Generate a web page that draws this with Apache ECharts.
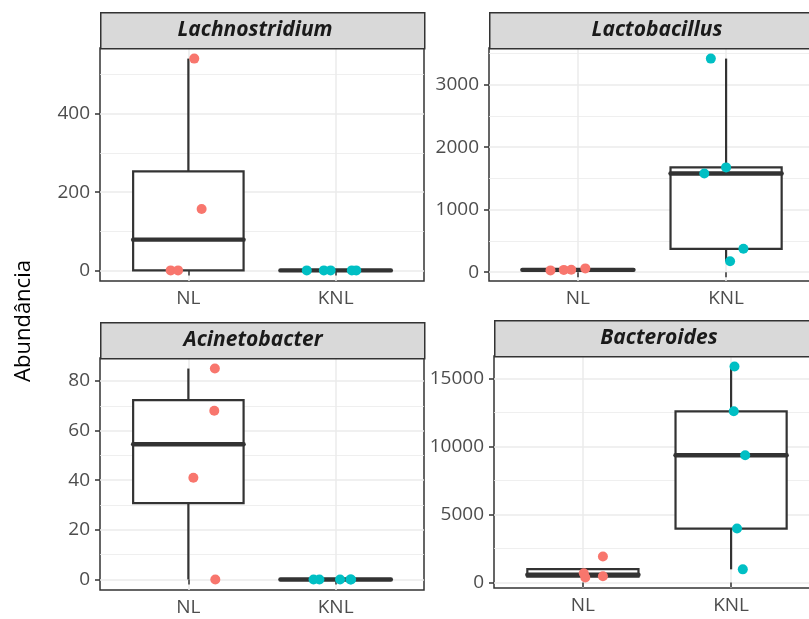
<!DOCTYPE html>
<html>
<head>
<meta charset="utf-8">
<script src="https://cdn.jsdelivr.net/npm/echarts@6/dist/echarts.min.js"></script>
<style>
  html, body { margin: 0; padding: 0; background: #ffffff; }
  #chart { width: 809px; height: 619px; }
</style>
</head>
<body>
<div id="chart"></div>
<script>
// Groups on the x axis and the genera shown in each facet
const groups = ['NL', 'KNL'];
const genera = ['Lachnostridium', 'Lactobacillus', 'Acinetobacter', 'Bacteroides'];

// Abundance per sample
const lachnoNL = [0, 0, 157, 541];
const lachnoKNL = [0, 0, 0, 0, 0];
const lactoNL = [28, 36, 38, 60];
const lactoKNL = [3419, 1677, 1580, 374, 176];
const acinetoNL = [85, 68, 41, 0];
const acinetoKNL = [0, 0, 0, 0, 0];
const bactNL = [684, 376, 460, 1920];
const bactKNL = [15884, 12595, 9357, 3970, 972];

// Horizontal jitter of each sample (in category units)
const lachnoNLJit = [-0.12, -0.07, 0.09, 0.04];
const lachnoKNLJit = [-0.196, -0.08, -0.034, 0.11, 0.14];
const lactoNLJit = [-0.185, -0.095, -0.045, 0.05];
const lactoKNLJit = [-0.103, 0.0, -0.147, 0.117, 0.027];
const acinetoNLJit = [0.18, 0.176, 0.034, 0.183];
const acinetoKNLJit = [-0.15, -0.11, 0.03, 0.10, 0.105];
const bactNLJit = [0.006, 0.016, 0.135, 0.135];
const bactKNLJit = [0.023, 0.018, 0.095, 0.04, 0.079];

// Tick labels (major) and minor grid values for each facet
const lachnoTicks = [0, 200, 400];
const lachnoMinor = [100, 300, 500];
const lactoTicks = [0, 1000, 2000, 3000];
const lactoMinor = [500, 1500, 2500, 3500];
const acinetoTicks = [0, 20, 40, 60, 80];
const acinetoMinor = [10, 30, 50, 70];
const bactTicks = [0, 5000, 10000, 15000];
const bactMinor = [2500, 7500, 12500];

const panels = [
  { name: genera[0], nl: lachnoNL, knl: lachnoKNL, nlJit: lachnoNLJit, knlJit: lachnoKNLJit, ticks: lachnoTicks, minor: lachnoMinor },
  { name: genera[1], nl: lactoNL, knl: lactoKNL, nlJit: lactoNLJit, knlJit: lactoKNLJit, ticks: lactoTicks, minor: lactoMinor },
  { name: genera[2], nl: acinetoNL, knl: acinetoKNL, nlJit: acinetoNLJit, knlJit: acinetoKNLJit, ticks: acinetoTicks, minor: acinetoMinor },
  { name: genera[3], nl: bactNL, knl: bactKNL, nlJit: bactNLJit, knlJit: bactKNLJit, ticks: bactTicks, minor: bactMinor }
];

// Panel geometry: [left, top, width, height] of plotting area, strip above it
const layout = [
  { grid: [100, 48, 324, 233], strip: [100, 12, 324, 36], label: [255, 30] },
  { grid: [489, 48, 326, 233], strip: [489, 12, 326, 36], label: [657, 30] },
  { grid: [100, 358, 324, 232], strip: [100, 322, 324, 36], label: [253, 340] },
  { grid: [494, 356, 326, 232], strip: [494, 320, 326, 36], label: [659, 338] }
];

const COLORS = ['#F8766D', '#00BFC4'];
const INK = '#333333';
const GRIDLINE = '#EBEBEB';
const FONT = 'Open Sans';
const BOX_WIDTH = 0.75;

// Type-7 quantile on a sorted array
function quantile(sorted, p) {
  const h = (sorted.length - 1) * p;
  const lo = Math.floor(h), hi = Math.ceil(h);
  return sorted[lo] + (h - lo) * (sorted[hi] - sorted[lo]);
}

// Tukey box statistics: [x, lowerWhisker, q1, median, q3, upperWhisker]
function boxStats(values, x) {
  const s = values.slice().sort((a, b) => a - b);
  const q1 = quantile(s, 0.25), med = quantile(s, 0.5), q3 = quantile(s, 0.75);
  const iqr = q3 - q1;
  const inside = s.filter(v => v >= q1 - 1.5 * iqr && v <= q3 + 1.5 * iqr);
  return [x, Math.min.apply(null, inside), q1, med, q3, Math.max.apply(null, inside)];
}

function renderBox(params, api) {
  const x = api.value(0);
  const lo = api.coord([x, api.value(1)]);
  const q1 = api.coord([x, api.value(2)]);
  const med = api.coord([x, api.value(3)]);
  const q3 = api.coord([x, api.value(4)]);
  const hi = api.coord([x, api.value(5)]);
  const half = api.size([BOX_WIDTH, 0])[0] / 2;
  const cx = med[0];
  const line = { stroke: INK, lineWidth: 2.2 };
  return {
    type: 'group',
    children: [
      { type: 'line', shape: { x1: cx, y1: q3[1], x2: cx, y2: hi[1] }, style: line },
      { type: 'line', shape: { x1: cx, y1: q1[1], x2: cx, y2: lo[1] }, style: line },
      { type: 'rect', shape: { x: cx - half, y: q3[1], width: 2 * half, height: q1[1] - q3[1] },
        style: { fill: '#ffffff', stroke: INK, lineWidth: 2.2 } },
      { type: 'line', shape: { x1: cx - half, y1: med[1], x2: cx + half, y2: med[1] },
        style: { stroke: INK, lineWidth: 4.4, lineCap: 'round' } }
    ]
  };
}

const grids = [], xAxes = [], yAxes = [], series = [], graphics = [];

panels.forEach((p, i) => {
  const L = layout[i];
  grids.push({
    left: L.grid[0], top: L.grid[1], width: L.grid[2], height: L.grid[3],
    outerBoundsMode: 'none',
    show: true, backgroundColor: '#ffffff', borderColor: INK, borderWidth: 1.5
  });

  const all = p.nl.concat(p.knl);
  const dMin = Math.min.apply(null, all), dMax = Math.max.apply(null, all);
  const pad = (dMax - dMin) * 0.05;
  const yMin = dMin - pad, yMax = dMax + pad;

  xAxes.push({
    gridIndex: i, type: 'value', min: 0.4, max: 2.6,
    axisLine: { show: false },
    axisTick: { show: true, customValues: [1, 2], length: 5, lineStyle: { color: INK, width: 1.5 } },
    axisLabel: { customValues: [1, 2], formatter: v => groups[Math.round(v) - 1],
      color: '#4D4D4D', fontSize: 19, fontFamily: FONT, margin: 8 },
    splitLine: { show: true, lineStyle: { color: GRIDLINE, width: 1.5 } }
  });

  yAxes.push({
    gridIndex: i, type: 'value', min: yMin, max: yMax,
    axisLine: { show: false },
    axisTick: { show: true, customValues: p.ticks, length: 5, lineStyle: { color: INK, width: 1.5 } },
    axisLabel: { customValues: p.ticks, formatter: v => String(v),
      color: '#4D4D4D', fontSize: 19, fontFamily: FONT, margin: 10 },
    splitLine: { show: true, lineStyle: { color: GRIDLINE, width: 1.5 } }
  });
  yAxes.push({
    gridIndex: i, type: 'value', min: yMin, max: yMax, position: 'left',
    axisLine: { show: false },
    axisTick: { show: false, customValues: p.minor },
    axisLabel: { show: false, customValues: p.minor },
    splitLine: { show: true, lineStyle: { color: GRIDLINE, width: 0.8 } }
  });

  series.push({
    type: 'custom', xAxisIndex: i, yAxisIndex: 2 * i,
    renderItem: renderBox,
    data: [boxStats(p.nl, 1), boxStats(p.knl, 2)],
    silent: true, z: 2
  });
  series.push({
    type: 'scatter', xAxisIndex: i, yAxisIndex: 2 * i, symbolSize: 10,
    itemStyle: { color: COLORS[0], opacity: 1 }, silent: true, z: 3,
    data: p.nl.map((v, k) => [1 + p.nlJit[k], v])
  });
  series.push({
    type: 'scatter', xAxisIndex: i, yAxisIndex: 2 * i, symbolSize: 10,
    itemStyle: { color: COLORS[1], opacity: 1 }, silent: true, z: 3,
    data: p.knl.map((v, k) => [2 + p.knlJit[k], v])
  });

  // Facet strip
  graphics.push({
    type: 'rect', left: L.strip[0], top: L.strip[1],
    shape: { width: L.strip[2], height: L.strip[3] },
    style: { fill: '#D9D9D9', stroke: INK, lineWidth: 1.5 }, z: 10
  });
  graphics.push({
    type: 'text', x: L.label[0], y: L.label[1], z: 11,
    style: { text: p.name, fill: '#1A1A1A', font: 'italic bold 21px "Open Sans"',
      align: 'center', verticalAlign: 'middle' }
  });
});

// Shared y-axis title
graphics.push({
  type: 'text', x: 24, y: 321, rotation: Math.PI / 2, z: 11,
  style: { text: 'Abundância', fill: '#000000', font: '22px "Open Sans"',
    align: 'center', verticalAlign: 'middle' }
});

const chart = echarts.init(document.getElementById('chart'), null, { renderer: 'canvas' });
chart.setOption({
  backgroundColor: '#ffffff',
  animation: false,
  grid: grids,
  xAxis: xAxes,
  yAxis: yAxes,
  series: series,
  graphic: graphics
});
</script>
</body>
</html>
